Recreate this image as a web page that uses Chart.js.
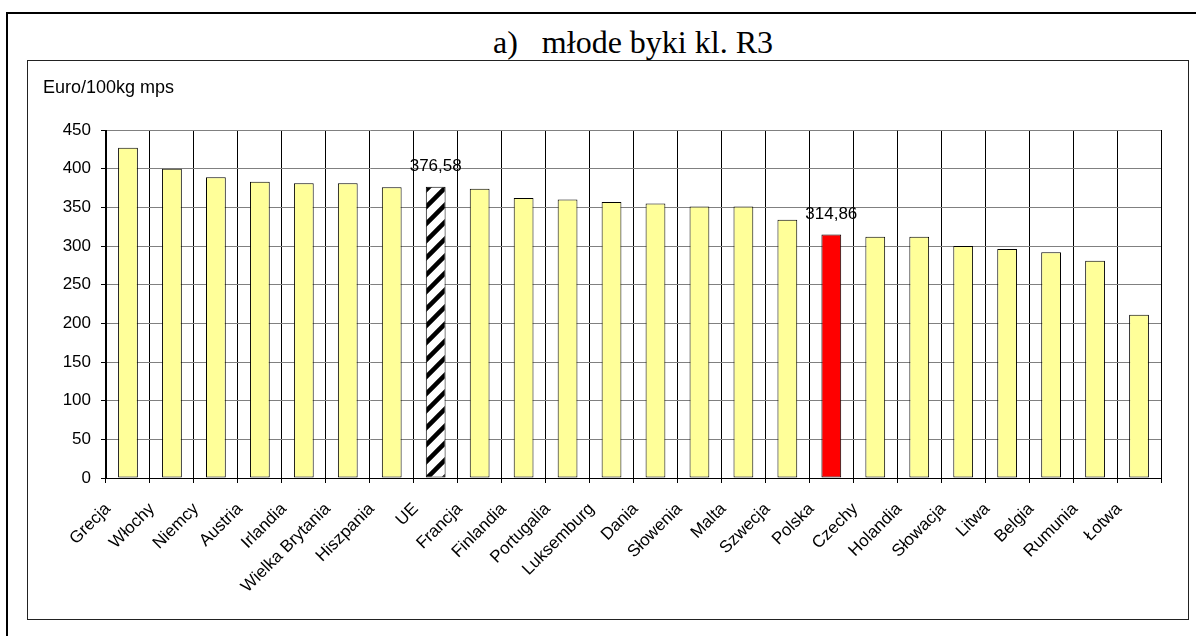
<!DOCTYPE html>
<html>
<head>
<meta charset="utf-8">
<script src="https://cdn.jsdelivr.net/npm/chart.js@4.4.0/dist/chart.umd.min.js"></script>
<style>
  html, body { margin: 0; padding: 0; background: #fff; overflow: hidden; }
  body { width: 1196px; height: 636px; position: relative; }
  #outer { position: absolute; left: 6px; top: 12px; width: 1300px; height: 700px; border: 2px solid #000; }
  #title { position: absolute; left: 493px; top: 26px; font: 32px "Liberation Serif", "Times New Roman", serif; line-height: 32px; white-space: pre; color: #000; }
  #inner { position: absolute; left: 27px; top: 60px; width: 1160px; height: 558px; border: 1px solid #222; }
  #chart { position: absolute; left: 0; top: 0; }
</style>
</head>
<body>
<div id="outer"></div>
<div id="title">a)   młode byki kl. R3</div>
<div id="inner"><canvas id="chart" width="1160" height="558"></canvas></div>
<script>
const countries = ["Grecja", "Włochy", "Niemcy", "Austria", "Irlandia", "Wielka Brytania", "Hiszpania", "UE",
  "Francja", "Finlandia", "Portugalia", "Luksemburg", "Dania", "Słowenia", "Malta", "Szwecja", "Polska",
  "Czechy", "Holandia", "Słowacja", "Litwa", "Belgia", "Rumunia", "Łotwa"];
const prices = [427, 400, 389, 383, 381, 381, 376, 376.58, 374, 362, 360, 357, 355, 351, 351, 334, 314.86,
  312, 312, 300, 296, 292, 281, 211];
const labelled = ["UE", "Polska"];
const yTicks = [0, 50, 100, 150, 200, 250, 300, 350, 400, 450];
const unitLabel = "Euro/100kg mps";

const FONT = 'Arial, "Liberation Sans", sans-serif';

// hatched fill for the EU average bar
function stripes() {
  const t = 17;
  const c = document.createElement("canvas");
  c.width = t; c.height = t;
  const g = c.getContext("2d");
  g.fillStyle = "#fff";
  g.fillRect(0, 0, t, t);
  g.strokeStyle = "#000";
  g.lineWidth = 4.5;
  g.beginPath();
  g.moveTo(-2, t + 2); g.lineTo(t + 2, -2);
  g.moveTo(-4, 4); g.lineTo(4, -4);
  g.moveTo(t - 4, t + 4); g.lineTo(t + 4, t - 4);
  g.stroke();
  return g.createPattern(c, "repeat");
}

const ctx = document.getElementById("chart").getContext("2d");
const hatch = stripes();
const fills = countries.map((c) => c === "UE" ? hatch : c === "Polska" ? "#ff0000" : "#ffff99");

const extras = {
  id: "extras",
  afterDatasetsDraw(chart) {
    const g = chart.ctx;
    const meta = chart.getDatasetMeta(0);
    g.save();
    g.fillStyle = "#000";
    g.font = "17px " + FONT;
    g.textAlign = "center";
    g.textBaseline = "alphabetic";
    countries.forEach((c, i) => {
      if (!labelled.includes(c)) return;
      const bar = meta.data[i];
      g.fillText(prices[i].toFixed(2).replace(".", ","), bar.x, bar.y - 16);
    });
    g.font = "18px " + FONT;
    g.textAlign = "left";
    g.textBaseline = "middle";
    g.fillText(unitLabel, 15, 27);
    g.restore();
  }
};

new Chart(ctx, {
  type: "bar",
  data: {
    labels: countries,
    datasets: [{
      data: prices,
      backgroundColor: fills,
      borderColor: "#000",
      borderWidth: 1,
      borderSkipped: false,
      barPercentage: 0.45,
      categoryPercentage: 1
    }]
  },
  options: {
    responsive: false,
    animation: false,
    layout: { padding: { top: 69, right: 27, left: 0, bottom: 0 } },
    plugins: { legend: { display: false }, tooltip: { enabled: false } },
    scales: {
      x: {
        grid: { offset: true, color: "#000", tickColor: "#000", tickLength: 5 },
        border: { color: "#000" },
        ticks: {
          autoSkip: false, minRotation: 45, maxRotation: 45,
          color: "#000", font: { family: FONT, size: 17 }, labelOffset: -20, padding: 16
        },
        afterFit(scale) { scale.height = 141; }
      },
      y: {
        min: 0, max: 450,
        afterBuildTicks(scale) { scale.ticks = yTicks.map((v) => ({ value: v })); },
        grid: { color: "#808080", tickColor: "#000", tickLength: 5 },
        border: { color: "#000" },
        ticks: { color: "#000", font: { family: FONT, size: 17 }, padding: 10 },
        afterFit(scale) { scale.width = 78; }
      }
    }
  },
  plugins: [extras]
});
</script>
</body>
</html>
